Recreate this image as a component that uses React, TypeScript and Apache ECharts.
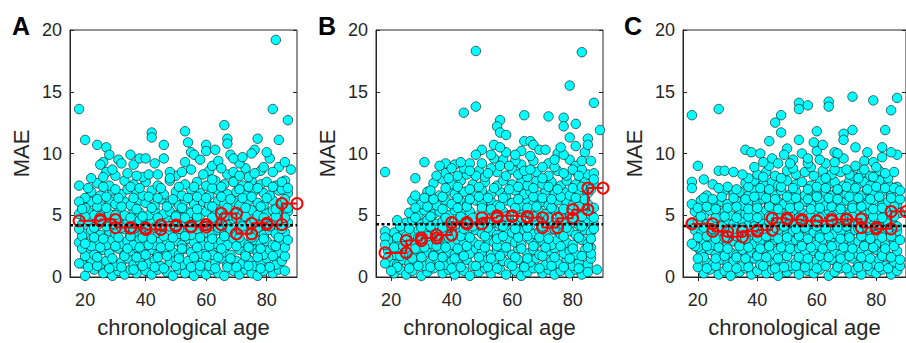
import React, { useEffect, useRef } from "react";
import * as echarts from "echarts";

// ---------- data ----------
const panelLabels = ["A", "B", "C"];
const xTicks = [20, 40, 60, 80];
const binEdges = [18, 25, 30, 35, 40, 45, 50, 55, 60, 65, 70, 75, 80, 85, 90];

const binMaeA = [4.55, 4.65, 4.0, 3.95, 3.85, 4.2, 4.1, 4.05, 4.25, 5.15, 3.5, 4.35, 4.25, 5.95];
const binMaeB = [1.95, 2.95, 3.15, 3.4, 4.4, 4.3, 4.8, 4.95, 4.9, 4.8, 4.0, 4.75, 5.45, 7.2];
const binMaeC = [4.3, 3.7, 3.25, 3.7, 3.8, 4.75, 4.65, 4.55, 4.55, 4.65, 4.7, 4.0, 3.9, 5.3];

const meanMaeA = 4.2;
const meanMaeB = 4.27;
const meanMaeC = 4.13;

const highA = [
  [83, 19.2], [18, 13.6], [82, 13.6], [87, 12.7], [66, 12.3], [53, 11.8], [42, 11.7], [42, 11.3], [20, 11.1], [54, 10.9],
  [77, 11.2], [67, 11.2], [67, 10.8], [84, 11.1], [24, 10.7], [27, 10.5], [46, 10.7], [55, 10.1], [60, 10.7], [60, 10.2],
  [63, 10.3], [76, 10.3], [75, 10.0], [80, 10.1], [28, 9.9], [35, 9.9], [38, 9.6], [40, 9.6], [56, 9.9], [58, 9.5],
  [64, 9.4], [46, 9.6], [43, 9.2], [68, 9.9], [69, 9.6], [72, 9.7], [86, 9.3], [31, 9.5], [32, 9.2], [79, 8.9],
  [88, 8.7], [25, 9.1], [27, 8.5], [29, 8.7], [41, 8.3], [44, 8.3], [48, 8.5], [52, 8.5], [48, 8.0], [65, 8.8],
  [69, 8.5], [74, 8.1], [76, 8.4], [82, 8.5], [18, 7.4], [18, 6.1], [26, 8.1], [34, 8.4], [37, 8.2], [59, 8.3],
  [62, 7.9], [71, 8.2], [85, 7.7], [87, 7.2], [18, 1.1], [20, 2.7], [19, 5.5]
];
const coreA = [
  [20, 0.1], [23, 0.6], [26, 0.3], [29, 0.1], [31, 0.5], [33, 0.2], [35, 0.6], [37, 0.3], [40, 0.5], [42, 0.2], [44, 0.6], [47, 0.4], [49, 0.1], [51, 0.6], [53, 0.3], [56, 0.1], [58, 0.5], [60, 0.2], [62, 0.6], [64, 0.3], [66, 0.1], [69, 0.5], [71, 0.2], [73, 0.6], [75, 0.3], [77, 0.1], [79, 0.5], [82, 0.3], [84, 0.6],
  [19, 1.1], [22, 1.4], [25, 1.0], [27, 1.3], [30, 0.9], [32, 1.2], [34, 1.5], [36, 1.0], [38, 1.3], [41, 1.1], [43, 1.4], [45, 0.9], [48, 1.2], [50, 1.5], [52, 1.0], [54, 1.3], [57, 1.1], [59, 1.4], [61, 0.9], [63, 1.2], [65, 1.5], [67, 1.0], [70, 1.3], [72, 1.1], [74, 1.4], [76, 0.9], [78, 1.2], [80, 1.5], [83, 1.0], [85, 1.3],
  [21, 2.1], [23, 1.8], [26, 2.2], [28, 1.9], [31, 2.3], [33, 1.8], [35, 2.1], [37, 2.4], [39, 1.9], [42, 2.2], [44, 1.8], [46, 2.3], [49, 2.0], [51, 1.8], [53, 2.3], [55, 2.0], [58, 1.9], [60, 2.2], [62, 1.8], [64, 2.4], [66, 2.0], [68, 1.8], [71, 2.2], [73, 1.9], [75, 2.3], [77, 2.0], [79, 1.8], [81, 2.2], [84, 2.0], [86, 1.7],
  [18, 2.8], [21, 2.7], [24, 2.9], [27, 2.6], [29, 3.0], [32, 2.7], [34, 2.9], [36, 2.6], [38, 3.1], [40, 2.8], [43, 2.6], [45, 3.0], [47, 2.7], [50, 2.9], [52, 2.6], [54, 3.1], [56, 2.8], [59, 2.6], [61, 3.0], [63, 2.7], [65, 2.9], [67, 2.6], [69, 3.1], [72, 2.8], [74, 2.6], [76, 3.0], [78, 2.7], [80, 2.9], [82, 2.6], [85, 2.9],
  [20, 3.5], [22, 3.8], [25, 3.4], [28, 3.7], [30, 3.5], [33, 3.9], [35, 3.4], [37, 3.7], [39, 3.5], [41, 3.9], [44, 3.6], [46, 3.4], [48, 3.8], [51, 3.5], [53, 3.7], [55, 3.4], [57, 3.9], [60, 3.6], [62, 3.4], [64, 3.8], [66, 3.5], [68, 3.7], [70, 3.4], [73, 3.9], [75, 3.5], [77, 3.7], [79, 3.4], [81, 3.8], [83, 3.5], [86, 3.6],
  [19, 4.3], [21, 4.6], [24, 4.2], [26, 4.5], [29, 4.3], [31, 4.7], [34, 4.4], [36, 4.2], [38, 4.6], [40, 4.3], [42, 4.5], [45, 4.2], [47, 4.7], [49, 4.4], [52, 4.2], [54, 4.6], [56, 4.3], [58, 4.5], [61, 4.2], [63, 4.6], [65, 4.4], [67, 4.2], [69, 4.7], [71, 4.4], [74, 4.3], [76, 4.6], [78, 4.2], [80, 4.5], [82, 4.3], [84, 4.6], [87, 4.4],
  [18, 5.1], [21, 5.3], [23, 5.0], [26, 5.4], [28, 5.1], [31, 5.3], [33, 5.0], [36, 5.4], [38, 5.2], [41, 5.0], [43, 5.4], [46, 5.1], [48, 5.3], [50, 5.0], [53, 5.4], [55, 5.2], [58, 5.0], [60, 5.3], [63, 5.1], [65, 5.4], [68, 5.0], [70, 5.3], [72, 5.1], [75, 5.4], [77, 5.0], [80, 5.2], [82, 5.4], [85, 5.1], [87, 5.3],
  [19, 5.9], [22, 6.1], [25, 5.8], [28, 6.2], [30, 5.9], [33, 6.1], [35, 5.8], [38, 6.2], [40, 6.0], [43, 5.8], [45, 6.3], [48, 6.0], [51, 5.8], [53, 6.2], [56, 5.9], [59, 6.1], [61, 5.8], [64, 6.2], [66, 5.9], [69, 6.1], [71, 5.8], [74, 6.2], [77, 6.0], [79, 5.8], [82, 6.2], [85, 5.9],
  [22, 6.9], [25, 6.6], [29, 7.0], [32, 6.7], [34, 7.1], [37, 6.8], [39, 6.6], [42, 7.0], [46, 6.7], [50, 6.9], [52, 6.6], [55, 7.1], [58, 6.8], [61, 6.6], [64, 7.0], [67, 6.7], [70, 6.9], [73, 6.6], [76, 7.0], [79, 6.8], [81, 6.6], [84, 7.0], [87, 6.8],
  [24, 7.6], [28, 7.4], [33, 7.8], [36, 7.5], [40, 7.7], [44, 7.4], [48, 7.8], [53, 7.5], [57, 7.7], [60, 7.4], [63, 7.8], [66, 7.5], [69, 7.7], [72, 7.4], [75, 7.8], [78, 7.5], [80, 7.7], [83, 7.4], [86, 7.8]
];
const fillA = [
  [21, 0.8], [24, 0.9], [28, 0.7], [32, 0.8], [36, 0.6], [39, 0.9], [43, 0.8], [46, 0.7], [50, 0.9], [55, 0.8], [58, 0.9], [63, 0.7], [67, 0.8], [70, 0.8], [74, 0.9], [78, 0.7], [81, 0.8], [86, 0.5],
  [20, 1.7], [24, 1.6], [29, 1.5], [33, 1.7], [37, 1.6], [40, 1.8], [44, 1.6], [47, 1.7], [51, 1.5], [56, 1.6], [60, 1.7], [64, 1.6], [68, 1.5], [73, 1.7], [77, 1.6], [82, 1.7], [86, 2.4],
  [19, 2.3], [22, 2.5], [25, 2.4], [30, 2.5], [34, 2.3], [38, 2.4], [41, 2.6], [45, 2.4], [48, 2.5], [52, 2.3], [57, 2.4], [61, 2.5], [65, 2.3], [70, 2.5], [74, 2.4], [78, 2.3], [83, 2.5],
  [19, 3.3], [23, 3.2], [26, 3.1], [31, 3.2], [35, 3.3], [39, 3.2], [42, 3.1], [46, 3.3], [49, 3.2], [53, 3.3], [58, 3.2], [62, 3.1], [66, 3.3], [71, 3.2], [75, 3.2], [79, 3.1], [84, 3.2], [87, 3.0],
  [18, 3.9], [23, 4.0], [27, 4.1], [32, 4.0], [36, 3.9], [40, 4.1], [43, 4.0], [48, 4.1], [51, 3.9], [55, 4.0], [59, 4.1], [64, 4.0], [68, 3.9], [72, 4.1], [77, 4.0], [81, 4.1], [85, 3.9],
  [20, 4.9], [25, 4.9], [30, 5.0], [35, 4.8], [39, 4.9], [44, 4.8], [50, 4.9], [53, 4.8], [57, 4.9], [62, 4.8], [66, 4.9], [70, 4.8], [73, 4.9], [79, 4.8], [83, 4.9], [86, 4.8],
  [20, 5.6], [24, 5.7], [27, 5.6], [32, 5.7], [37, 5.5], [42, 5.6], [47, 5.7], [52, 5.6], [57, 5.5], [62, 5.7], [67, 5.6], [73, 5.6], [78, 5.7], [83, 5.5], [87, 5.6],
  [20, 6.4], [24, 6.3], [27, 6.5], [31, 6.4], [36, 6.4], [41, 6.5], [44, 6.4], [49, 6.3], [54, 6.4], [57, 6.5], [60, 6.4], [65, 6.5], [68, 6.3], [72, 6.4], [75, 6.5], [80, 6.4], [86, 6.3],
  [21, 7.2], [26, 7.3], [30, 7.1], [35, 7.3], [38, 7.2], [45, 7.2], [51, 7.3], [56, 7.3], [62, 7.2], [65, 7.3], [71, 7.1], [74, 7.3], [77, 7.2], [82, 7.3], [85, 7.1],
  [22, 8.0], [30, 8.2], [39, 8.1], [50, 8.2], [55, 8.7], [61, 8.6], [67, 8.3], [73, 8.8], [78, 8.6], [84, 8.9], [26, 9.3], [36, 9.1], [53, 9.3], [62, 9.0], [71, 9.2], [81, 9.6]
];

const highB = [
  [48, 18.3], [83, 18.2], [79, 15.5], [48, 13.8], [44, 13.3], [87, 14.1], [64, 13.1], [72, 13.0], [77, 12.9], [77, 12.2],
  [81, 12.4], [56, 12.7], [55, 12.2], [56, 11.7], [58, 11.5], [89, 11.9], [79, 11.3], [85, 11.2], [64, 11.0], [66, 11.0],
  [67, 10.7], [54, 10.7], [56, 10.5], [50, 10.3], [48, 9.9], [63, 10.2], [69, 10.3], [71, 10.3], [77, 9.9], [76, 10.5],
  [84, 10.1], [85, 10.7], [83, 9.4], [86, 9.4], [31, 9.3], [18, 8.5], [28, 8.0], [38, 9.2], [40, 8.8], [43, 9.3],
  [53, 9.9], [61, 9.4], [61, 9.9], [74, 9.5], [87, 8.4], [87, 7.9], [88, 0.6], [36, 9.0], [46, 8.6], [59, 9.0],
  [70, 8.9], [80, 8.7], [82, 8.2], [66, 8.7], [52, 8.4], [18, 3.7], [18, 3.2], [18, 2.6], [18, 1.1], [20, 0.5], [22, 4.6]
];
const coreB = [
  [21, 0.3], [23, 0.6], [25, 0.2], [27, 0.5], [30, 0.1], [32, 0.4], [34, 0.7], [37, 0.3], [39, 0.6], [41, 0.2], [44, 0.5], [46, 0.1], [49, 0.4], [51, 0.7], [53, 0.3], [56, 0.6], [58, 0.2], [61, 0.5], [63, 0.1], [65, 0.4], [67, 0.7], [70, 0.3], [72, 0.6], [74, 0.2], [76, 0.5], [79, 0.3], [81, 0.6], [83, 0.2],
  [20, 1.2], [22, 1.0], [24, 1.4], [26, 1.1], [28, 1.3], [31, 0.9], [33, 1.2], [35, 1.5], [38, 1.0], [40, 1.3], [42, 1.1], [45, 1.4], [47, 0.9], [50, 1.2], [52, 1.5], [54, 1.0], [57, 1.3], [59, 1.1], [62, 1.4], [64, 0.9], [66, 1.2], [68, 1.5], [71, 1.0], [73, 1.3], [75, 1.1], [78, 1.4], [80, 0.9], [82, 1.2], [85, 1.0], [86, 1.5],
  [19, 2.1], [21, 1.8], [23, 2.2], [25, 2.0], [27, 1.8], [29, 2.3], [32, 2.0], [34, 1.8], [36, 2.3], [39, 2.0], [41, 1.8], [43, 2.2], [46, 1.9], [48, 2.3], [50, 2.0], [53, 1.8], [55, 2.2], [57, 2.0], [60, 1.8], [62, 2.3], [65, 1.9], [67, 2.2], [69, 1.8], [72, 2.1], [74, 2.3], [77, 1.9], [79, 2.1], [81, 1.8], [84, 2.2], [86, 2.4],
  [20, 2.9], [23, 2.7], [26, 3.0], [28, 2.6], [30, 2.9], [33, 2.7], [35, 3.1], [37, 2.8], [40, 2.6], [42, 3.0], [44, 2.7], [47, 2.9], [49, 2.6], [52, 3.0], [54, 2.8], [56, 2.6], [59, 3.1], [61, 2.8], [63, 2.6], [66, 3.0], [68, 2.7], [70, 2.9], [73, 2.6], [75, 3.0], [78, 2.8], [80, 2.6], [83, 3.0], [85, 2.7],
  [21, 3.6], [24, 3.8], [27, 3.5], [29, 3.8], [31, 3.5], [34, 3.7], [36, 3.4], [38, 3.8], [41, 3.5], [43, 3.7], [45, 3.4], [48, 3.8], [50, 3.5], [53, 3.7], [55, 3.4], [58, 3.8], [60, 3.6], [62, 3.4], [64, 3.8], [67, 3.5], [69, 3.7], [71, 3.4], [74, 3.8], [76, 3.5], [79, 3.7], [81, 3.4], [84, 3.8], [86, 3.6],
  [25, 4.4], [27, 4.6], [30, 4.3], [32, 4.6], [35, 4.3], [37, 4.5], [39, 4.2], [42, 4.6], [44, 4.3], [46, 4.5], [49, 4.2], [51, 4.6], [54, 4.4], [56, 4.2], [59, 4.6], [61, 4.3], [63, 4.5], [66, 4.2], [68, 4.6], [70, 4.3], [73, 4.5], [75, 4.2], [77, 4.6], [80, 4.4], [82, 4.2], [85, 4.5], [87, 4.3],
  [26, 5.2], [29, 5.0], [31, 5.4], [34, 5.1], [36, 5.3], [39, 5.0], [41, 5.4], [44, 5.1], [46, 5.3], [49, 5.0], [52, 5.4], [54, 5.1], [57, 5.3], [59, 5.0], [62, 5.4], [64, 5.2], [66, 5.0], [69, 5.3], [71, 5.1], [74, 5.4], [76, 5.0], [79, 5.3], [81, 5.1], [84, 5.4], [86, 5.0],
  [27, 6.2], [30, 5.9], [33, 6.1], [35, 5.8], [38, 6.2], [40, 5.9], [43, 6.1], [45, 5.8], [48, 6.2], [50, 5.9], [53, 6.1], [55, 5.8], [58, 6.2], [60, 6.0], [63, 5.8], [65, 6.2], [67, 5.9], [70, 6.1], [72, 5.8], [75, 6.2], [78, 6.0], [80, 5.8], [83, 6.1], [85, 5.9],
  [28, 6.6], [32, 6.9], [36, 6.6], [39, 7.0], [41, 6.7], [44, 6.9], [47, 6.6], [50, 7.0], [53, 6.7], [56, 6.9], [58, 6.6], [61, 7.0], [64, 6.7], [66, 6.9], [69, 6.6], [71, 7.0], [74, 6.7], [77, 6.9], [79, 6.6], [82, 7.0], [85, 6.8],
  [34, 7.6], [37, 7.9], [40, 7.5], [43, 7.8], [47, 7.5], [51, 7.7], [55, 7.4], [57, 7.8], [60, 7.5], [63, 7.7], [65, 7.4], [68, 7.8], [70, 7.5], [73, 7.7], [76, 7.4], [78, 7.8], [81, 7.5], [84, 7.7], [87, 7.5],
  [38, 8.4], [42, 8.2], [45, 8.3], [49, 8.6], [51, 8.1], [55, 8.5], [58, 8.2], [60, 8.7], [62, 8.3], [65, 8.1], [68, 8.5], [72, 8.2], [75, 8.6], [78, 8.2], [81, 8.6], [85, 8.3],
  [41, 9.1], [50, 9.2], [57, 9.5], [63, 9.1], [67, 9.4], [72, 9.2], [79, 9.5], [81, 9.0]
];
const fillB = [
  [22, 0.8], [26, 0.7], [29, 0.9], [33, 0.8], [36, 0.9], [40, 0.7], [43, 0.8], [48, 0.9], [52, 0.8], [55, 0.7], [60, 0.9], [64, 0.8], [69, 0.7], [73, 0.9], [77, 0.8], [82, 0.7], [85, 0.4],
  [19, 1.6], [23, 1.7], [27, 1.5], [30, 1.6], [34, 1.7], [37, 1.6], [41, 1.5], [44, 1.7], [49, 1.6], [53, 1.5], [56, 1.7], [61, 1.6], [65, 1.5], [70, 1.7], [74, 1.6], [79, 1.5], [83, 1.7], [86, 1.9],
  [21, 2.4], [24, 2.5], [28, 2.3], [31, 2.4], [35, 2.5], [38, 2.4], [42, 2.3], [45, 2.5], [51, 2.4], [55, 2.5], [58, 2.4], [63, 2.3], [67, 2.5], [71, 2.4], [76, 2.5], [80, 2.3], [85, 2.4],
  [19, 3.0], [22, 3.2], [25, 3.3], [29, 3.2], [32, 3.3], [36, 3.1], [39, 3.2], [43, 3.3], [46, 3.2], [51, 3.3], [55, 3.1], [57, 3.3], [62, 3.2], [65, 3.3], [69, 3.2], [72, 3.1], [77, 3.3], [82, 3.2], [86, 3.1],
  [23, 4.1], [26, 3.9], [30, 4.0], [33, 4.1], [37, 4.0], [40, 4.1], [44, 3.9], [47, 4.1], [52, 4.0], [57, 4.1], [61, 3.9], [65, 4.0], [70, 4.1], [74, 3.9], [78, 4.0], [83, 4.1], [87, 3.9],
  [28, 4.8], [33, 4.9], [38, 4.8], [43, 4.9], [47, 4.8], [50, 4.9], [55, 4.8], [58, 4.9], [63, 4.8], [67, 4.9], [72, 4.8], [76, 4.9], [80, 4.8], [83, 4.9], [87, 4.8],
  [28, 5.6], [32, 5.7], [37, 5.5], [42, 5.6], [45, 5.7], [50, 5.6], [53, 5.5], [56, 5.7], [61, 5.6], [65, 5.6], [68, 5.7], [73, 5.6], [77, 5.5], [82, 5.7], [87, 5.6],
  [31, 6.4], [34, 6.3], [37, 6.5], [42, 6.4], [46, 6.3], [49, 6.5], [52, 6.4], [57, 6.4], [62, 6.3], [67, 6.5], [70, 6.4], [73, 6.3], [76, 6.5], [81, 6.4], [84, 6.3],
  [33, 7.0], [38, 7.2], [42, 7.3], [46, 7.1], [49, 7.3], [54, 7.2], [59, 7.1], [62, 7.3], [67, 7.2], [72, 7.3], [75, 7.1], [80, 7.2], [83, 7.3], [86, 7.1],
  [39, 8.0], [44, 8.8], [48, 8.2], [53, 8.8], [56, 9.0], [64, 8.6], [70, 8.0], [74, 8.9], [77, 8.4], [83, 8.7], [35, 8.2], [46, 9.2], [54, 9.6], [66, 9.8], [75, 10.0], [58, 10.1], [81, 10.6]
];

const highC = [
  [18, 13.1], [27, 13.6], [72, 14.6], [87, 14.5], [79, 14.3], [54, 14.1], [54, 13.6], [57, 13.9], [64, 14.2], [64, 13.8],
  [85, 13.5], [48, 13.1], [46, 12.5], [48, 11.7], [83, 11.9], [72, 11.9], [69, 11.6], [69, 11.1], [60, 11.8], [54, 11.1],
  [44, 11.0], [59, 10.9], [62, 10.7], [82, 10.5], [85, 10.1], [36, 10.3], [38, 10.1], [41, 10.0], [66, 10.1], [67, 10.0],
  [77, 10.1], [20, 9.0], [22, 7.9], [27, 8.6], [29, 8.6], [32, 8.5], [18, 7.7], [18, 7.2], [42, 9.3], [49, 9.9],
  [52, 9.5], [55, 10.0], [79, 9.3], [80, 8.9], [70, 8.7], [76, 8.7], [86, 7.2], [88, 7.0], [45, 9.6], [47, 9.2],
  [57, 9.6], [63, 9.2], [73, 9.0], [83, 8.4], [51, 9.2], [61, 9.5], [66, 9.3], [39, 8.9], [35, 8.3],
  [20, 1.5], [19, 2.5], [18, 2.7]
];
const coreC = [
  [22, 0.3], [24, 0.6], [27, 0.2], [29, 0.5], [31, 0.1], [34, 0.4], [36, 0.7], [38, 0.2], [40, 0.5], [43, 0.3], [45, 0.6], [47, 0.1], [50, 0.4], [52, 0.7], [54, 0.2], [57, 0.5], [59, 0.3], [61, 0.6], [64, 0.1], [66, 0.4], [68, 0.7], [71, 0.3], [73, 0.6], [75, 0.2], [78, 0.5], [80, 0.3], [82, 0.6], [85, 0.2], [87, 0.5],
  [23, 1.2], [25, 1.0], [28, 1.4], [30, 1.1], [32, 1.3], [35, 0.9], [37, 1.2], [39, 1.5], [41, 1.0], [44, 1.3], [46, 1.1], [48, 1.4], [51, 0.9], [53, 1.2], [55, 1.5], [58, 1.0], [60, 1.3], [62, 1.1], [65, 1.4], [67, 0.9], [69, 1.2], [72, 1.5], [74, 1.0], [76, 1.3], [79, 1.1], [81, 1.4], [83, 0.9], [86, 1.2],
  [21, 2.0], [24, 2.2], [26, 1.8], [28, 2.3], [31, 2.0], [33, 1.8], [35, 2.2], [38, 2.0], [40, 1.8], [42, 2.3], [45, 1.9], [47, 2.2], [49, 1.8], [52, 2.1], [54, 2.3], [56, 1.9], [59, 2.1], [61, 1.8], [63, 2.2], [66, 2.0], [68, 1.8], [70, 2.3], [73, 1.9], [75, 2.1], [77, 1.8], [80, 2.2], [82, 2.0], [84, 1.7], [87, 2.1],
  [22, 2.9], [25, 2.6], [27, 3.0], [30, 2.7], [32, 2.9], [34, 2.6], [37, 3.0], [39, 2.7], [41, 2.9], [44, 2.6], [46, 3.0], [48, 2.8], [51, 2.6], [53, 3.0], [55, 2.7], [58, 2.9], [60, 2.6], [62, 3.0], [65, 2.8], [67, 2.6], [69, 3.0], [72, 2.7], [74, 2.9], [76, 2.6], [79, 3.0], [81, 2.8], [83, 2.6], [86, 2.9],
  [19, 3.8], [21, 3.5], [24, 3.7], [26, 3.4], [29, 3.8], [31, 3.5], [33, 3.7], [36, 3.4], [38, 3.8], [40, 3.5], [43, 3.7], [45, 3.4], [47, 3.8], [50, 3.5], [52, 3.7], [54, 3.4], [57, 3.8], [59, 3.6], [61, 3.4], [64, 3.8], [66, 3.5], [68, 3.7], [71, 3.4], [73, 3.8], [75, 3.5], [78, 3.7], [80, 3.4], [82, 3.8], [85, 3.5], [87, 3.7],
  [18, 4.4], [20, 4.6], [23, 4.3], [25, 4.5], [28, 4.2], [30, 4.6], [32, 4.3], [35, 4.5], [37, 4.2], [39, 4.6], [42, 4.3], [44, 4.5], [46, 4.2], [49, 4.6], [51, 4.4], [53, 4.2], [56, 4.6], [58, 4.3], [60, 4.5], [63, 4.2], [65, 4.6], [67, 4.4], [70, 4.2], [72, 4.6], [74, 4.3], [77, 4.5], [79, 4.2], [81, 4.6], [84, 4.4], [86, 4.2],
  [19, 5.3], [22, 5.0], [24, 5.4], [27, 5.1], [29, 5.3], [31, 5.0], [34, 5.4], [36, 5.1], [38, 5.3], [41, 5.0], [43, 5.4], [45, 5.1], [48, 5.3], [50, 5.0], [52, 5.4], [55, 5.2], [57, 5.0], [59, 5.3], [62, 5.1], [64, 5.4], [66, 5.0], [69, 5.3], [71, 5.1], [73, 5.4], [76, 5.0], [78, 5.3], [80, 5.1], [83, 5.4], [85, 5.0], [88, 5.2],
  [18, 5.9], [21, 6.2], [26, 5.8], [28, 6.1], [30, 5.9], [33, 6.2], [35, 5.8], [37, 6.1], [40, 5.9], [42, 6.3], [44, 5.8], [47, 6.1], [49, 5.9], [51, 6.2], [54, 5.8], [56, 6.1], [58, 5.9], [61, 6.2], [63, 5.8], [65, 6.1], [68, 5.9], [70, 6.2], [72, 5.8], [75, 6.1], [77, 5.9], [79, 6.2], [82, 5.8], [84, 6.1], [87, 5.9],
  [23, 6.6], [29, 7.0], [32, 6.7], [34, 6.9], [37, 6.6], [39, 7.0], [41, 6.7], [44, 6.9], [46, 6.6], [48, 7.0], [51, 6.7], [53, 6.9], [56, 6.6], [58, 7.0], [60, 6.7], [63, 6.9], [65, 6.6], [67, 7.0], [70, 6.7], [72, 6.9], [75, 6.6], [77, 7.0], [79, 6.7], [82, 6.9], [85, 6.6],
  [25, 7.5], [30, 7.3], [36, 7.6], [39, 7.8], [42, 7.5], [45, 7.7], [47, 7.4], [50, 7.8], [53, 7.5], [55, 7.7], [58, 7.4], [61, 7.8], [64, 7.5], [66, 7.7], [69, 7.4], [71, 7.8], [74, 7.5], [76, 7.7], [78, 7.4], [81, 7.8], [84, 7.5],
  [40, 8.3], [43, 8.5], [46, 8.2], [50, 8.6], [53, 8.3], [56, 8.5], [59, 8.2], [62, 8.6], [65, 8.3], [68, 8.5], [72, 8.2], [75, 8.4], [78, 8.2], [81, 8.6], [84, 8.0]
];
const fillC = [
  [20, 0.8], [23, 0.7], [26, 0.9], [30, 0.8], [33, 0.7], [37, 0.8], [42, 0.9], [46, 0.7], [49, 0.8], [53, 0.9], [56, 0.8], [60, 0.7], [63, 0.9], [67, 0.8], [70, 0.7], [74, 0.8], [77, 0.9], [81, 0.8], [84, 0.7], [88, 0.9],
  [22, 1.6], [26, 1.5], [29, 1.7], [33, 1.6], [36, 1.5], [40, 1.7], [43, 1.6], [47, 1.5], [50, 1.7], [54, 1.6], [57, 1.5], [61, 1.7], [64, 1.6], [68, 1.5], [71, 1.7], [75, 1.6], [78, 1.5], [82, 1.7], [85, 1.6], [88, 1.4],
  [20, 2.4], [23, 2.5], [27, 2.4], [30, 2.3], [34, 2.5], [37, 2.4], [41, 2.3], [44, 2.5], [48, 2.4], [51, 2.3], [55, 2.5], [58, 2.4], [62, 2.3], [65, 2.5], [69, 2.4], [72, 2.3], [76, 2.5], [79, 2.4], [83, 2.3], [86, 2.5],
  [20, 3.2], [23, 3.3], [26, 3.1], [29, 3.2], [33, 3.3], [36, 3.1], [40, 3.2], [43, 3.3], [47, 3.1], [50, 3.2], [54, 3.3], [57, 3.1], [61, 3.2], [64, 3.3], [68, 3.1], [71, 3.2], [75, 3.3], [78, 3.1], [82, 3.2], [85, 3.3], [88, 3.0],
  [22, 4.0], [25, 3.9], [28, 4.1], [32, 3.9], [35, 4.0], [39, 4.1], [42, 3.9], [46, 4.0], [49, 4.1], [53, 3.9], [56, 4.0], [60, 4.1], [63, 3.9], [67, 4.0], [70, 4.1], [74, 3.9], [77, 4.0], [81, 4.1], [84, 3.9], [87, 4.1],
  [21, 4.9], [26, 4.8], [29, 4.9], [33, 4.8], [37, 4.9], [40, 4.8], [44, 4.9], [47, 4.8], [51, 4.9], [54, 4.8], [58, 4.9], [61, 4.8], [65, 4.9], [68, 4.8], [72, 4.9], [75, 4.8], [79, 4.9], [82, 4.8], [86, 4.9],
  [20, 5.6], [23, 5.7], [26, 5.5], [30, 5.6], [33, 5.7], [37, 5.5], [40, 5.6], [44, 5.7], [47, 5.5], [51, 5.6], [54, 5.7], [58, 5.5], [61, 5.6], [65, 5.7], [68, 5.5], [72, 5.6], [75, 5.7], [79, 5.5], [82, 5.6], [86, 5.7],
  [22, 6.4], [25, 6.3], [28, 6.5], [32, 6.4], [36, 6.3], [39, 6.5], [43, 6.4], [46, 6.3], [50, 6.5], [53, 6.4], [57, 6.3], [60, 6.5], [64, 6.4], [67, 6.3], [71, 6.5], [74, 6.4], [78, 6.3], [81, 6.5], [85, 6.4], [88, 6.3],
  [27, 7.2], [33, 7.1], [37, 7.3], [41, 7.2], [44, 7.1], [48, 7.3], [52, 7.2], [57, 7.1], [60, 7.3], [63, 7.2], [67, 7.1], [70, 7.3], [73, 7.2], [77, 7.1], [80, 7.3], [83, 7.2], [87, 7.3],
  [37, 8.0], [42, 8.1], [48, 8.0], [52, 8.8], [58, 8.9], [63, 8.0], [66, 8.7], [71, 8.3], [74, 8.0], [79, 8.1], [86, 8.5], [44, 9.0], [57, 9.2], [69, 9.6], [76, 9.4], [82, 9.7], [50, 10.4], [60, 10.2], [73, 10.5], [87, 9.9]
];

// ---------- layout / styles ----------
const gridLefts = [70, 376, 683];
const labelXs = [12, 318, 624];
const FONT = "Liberation Sans, Arial, sans-serif";
const TXT = "#262626";

const panels = [
  { pts: coreA.concat(fillA, highA), bins: binMaeA, mean: meanMaeA },
  { pts: coreB.concat(fillB, highB), bins: binMaeB, mean: meanMaeB },
  { pts: coreC.concat(fillC, highC), bins: binMaeC, mean: meanMaeC },
];

function stepPoints(bins: number[]) {
  const out: number[][] = [];
  bins.forEach((m, i) => {
    out.push([binEdges[i], m]);
    out.push([binEdges[i + 1], m]);
  });
  return out;
}

function buildOption() {
  const grid: any[] = [];
  const xAxis: any[] = [];
  const yAxis: any[] = [];
  const series: any[] = [];
  panels.forEach((p, i) => {
    grid.push({
      left: gridLefts[i], top: 30, width: 227, height: 250,
      show: true, borderColor: TXT, borderWidth: 1, backgroundColor: "transparent",
    });
    xAxis.push({
      type: "value", gridIndex: i, min: 15, max: 90, position: "bottom",
      axisLine: { show: true, onZero: false, lineStyle: { color: TXT, width: 1 } },
      axisTick: { show: true, inside: true, length: 4, customValues: xTicks, lineStyle: { color: TXT } },
      axisLabel: { show: true, customValues: xTicks, fontSize: 18, color: TXT, fontFamily: FONT, margin: 14 },
      splitLine: { show: false },
      name: "chronological age", nameLocation: "middle", nameGap: 39,
      nameTextStyle: { fontSize: 22, color: TXT, fontFamily: FONT },
    });
    xAxis.push({
      type: "value", gridIndex: i, min: 15, max: 90, position: "top",
      axisLine: { show: false },
      axisTick: { show: true, inside: true, length: 4, customValues: xTicks, lineStyle: { color: TXT } },
      axisLabel: { show: false }, splitLine: { show: false },
    });
    yAxis.push({
      type: "value", gridIndex: i, min: 0, max: 20, interval: 5, position: "left",
      axisLine: { show: true, onZero: false, lineStyle: { color: TXT, width: 1 } },
      axisTick: { show: true, inside: true, length: 4, lineStyle: { color: TXT } },
      axisLabel: { show: true, fontSize: 18, color: TXT, fontFamily: FONT, margin: 8 },
      splitLine: { show: false },
      name: "MAE", nameLocation: "middle", nameGap: 38, nameRotate: 90,
      nameTextStyle: { fontSize: 22, color: TXT, fontFamily: FONT },
    });
    yAxis.push({
      type: "value", gridIndex: i, min: 0, max: 20, interval: 5, position: "right",
      axisLine: { show: false },
      axisTick: { show: true, inside: true, length: 4, lineStyle: { color: TXT } },
      axisLabel: { show: false }, splitLine: { show: false },
    });
    series.push({
      type: "scatter", xAxisIndex: i * 2, yAxisIndex: i * 2, data: p.pts,
      symbol: "circle", symbolSize: 9.5, clip: false, z: 2,
      itemStyle: { color: "#00FFFF", borderColor: "#000", borderWidth: 0.6, opacity: 1 },
    });
    series.push({
      type: "line", xAxisIndex: i * 2, yAxisIndex: i * 2, data: stepPoints(p.bins),
      symbol: "circle", symbolSize: 11, showSymbol: true, clip: false, z: 3,
      lineStyle: { color: "#FF0000", width: 2 },
      itemStyle: { color: "#FFFFFF00", borderColor: "#FF0000", borderWidth: 2 },
    });
    series.push({
      type: "line", xAxisIndex: i * 2, yAxisIndex: i * 2, data: [[15, p.mean], [90, p.mean]],
      symbol: "none", clip: true, z: 4,
      lineStyle: { color: "#000", width: 2.5, type: [3, 2.5] },
    });
  });
  const graphic = panelLabels.map((t, i) => ({
    type: "text", x: labelXs[i], y: 25.5,
    style: { text: t, font: `bold 25px ${FONT}`, fill: "#000", textVerticalAlign: "middle", verticalAlign: "middle" },
  }));
  return { animation: false, backgroundColor: "#fff", grid, xAxis, yAxis, series, graphic };
}

export default function App() {
  const ref = useRef<HTMLDivElement>(null);
  useEffect(() => {
    const chart = echarts.init(ref.current!, null, { renderer: "svg" });
    chart.setOption(buildOption() as any);
    return () => chart.dispose();
  }, []);
  return (
    <div
      ref={ref}
      style={{ position: "fixed", left: 0, top: 0, width: 906, height: 343, background: "#fff" }}
    />
  );
}
